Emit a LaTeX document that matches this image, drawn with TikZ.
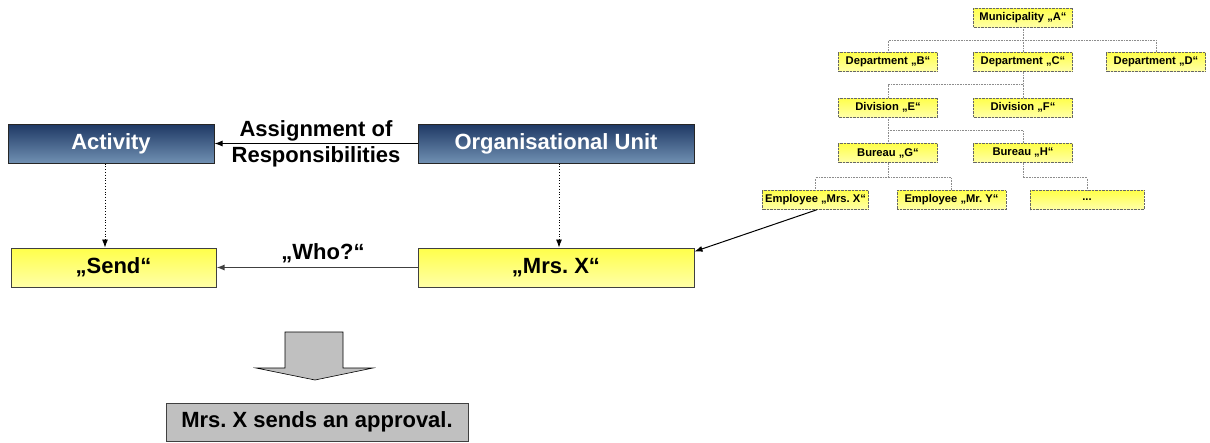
\documentclass[tikz,border=0pt]{standalone}
\usepackage{fontspec}
\setmainfont{Liberation Sans}
\usepackage{tikz}
\usetikzlibrary{arrows.meta, positioning}
\usepackage{xcolor}
\definecolor{blutop}{HTML}{1E3864}
\definecolor{blubot}{HTML}{7090B2}
\definecolor{yeltop}{HTML}{FFFF4A}
\definecolor{yelbot}{HTML}{FFFFA8}
\definecolor{boxgray}{HTML}{C0C0C0}
\newcommand{\lblfont}{\fontsize{22}{26}\selectfont\bfseries}
\newcommand{\orgfont}{\fontsize{11.2}{12}\selectfont\bfseries}
\frenchspacing

\begin{document}
\begin{tikzpicture}[x=1pt, y=-1pt, >={Latex[length=8pt,width=6pt]},
    unitbox/.style={draw=black!85, line width=1pt, top color=blutop, bottom color=blubot,
        text=white, font=\lblfont, minimum height=39, inner sep=0},
    yelbox/.style={draw=black!75, line width=1pt, top color=yeltop, bottom color=yelbot,
        font=\lblfont, minimum height=39, inner sep=0},
    orgbox/.style={draw=black!60, densely dotted, top color=yeltop, bottom color=yelbot,
        font=\orgfont, minimum height=19, minimum width=99, inner sep=0},
    orgline/.style={draw=black!45, densely dotted, line width=0.6pt}]
    \useasboundingbox (0,0) rectangle (1210,442);

    % Ebene der Begriffe
    \node[unitbox, minimum width=206] (act) at (111,143.5) {Activity};
    \node[unitbox, minimum width=276] (org) at (556,143.5) {Organisational Unit};
    \draw[->, line width=1pt] (org) -- (act)
        node[midway, align=center, font=\lblfont] {Assignment of\\Responsibilities};

    % Ebene der Instanzen
    \node[yelbox, minimum width=205] (send) at (113.5,267.5) {„Send“};
    \node[yelbox, minimum width=276] (mrsx) at (556,267.5) {„Mrs. X“};
    \draw[->, line width=1.2pt, black!75] (mrsx) -- (send)
        node[midway, above=1pt, xshift=6, font=\lblfont, text=black] {„Who?“};
    \draw[->, dotted, line width=0.8pt] ([xshift=-6]act.south) -- ([xshift=-8.5]send.north);
    \draw[->, dotted, line width=0.8pt] ([xshift=3]org.south) -- ([xshift=3]mrsx.north);

    % Organigramm
    \node[orgbox] (mun) at (1023,17.5) {Municipality „A“};
    \node[orgbox] (depB) at (888,62) {Department „B“};
    \node[orgbox] (depC) at (1023,62) {Department „C“};
    \node[orgbox] (depD) at (1156,62) {Department „D“};
    \node[orgbox] (divE) at (888,107.5) {Division „E“};
    \node[orgbox] (divF) at (1023,107.5) {Division „F“};
    \node[orgbox] (burG) at (888,153) {Bureau „G“};
    \node[orgbox] (burH) at (1023,153) {Bureau „H“};
    \node[orgbox, minimum width=106] (empX) at (815.5,200) {Employee „Mrs. X“};
    \node[orgbox, minimum width=109] (empY) at (951.5,200) {Employee „Mr. Y“};
    \node[orgbox, minimum width=114] (empZ) at (1087,200) {...};

    \draw[orgline] (mun.south) -- ++(0,13) coordinate (busA) -- (depC.north);
    \draw[orgline] (depB.north) |- (busA) -| (depD.north);
    \draw[orgline] (depC.south) -- ++(0,13) coordinate (busB) -- (divF.north);
    \draw[orgline] (divE.north) |- (busB);
    \draw[orgline] (divE.south) -- ++(0,13) coordinate (busC) -- (burG.north);
    \draw[orgline] (busC) -| (burH.north);
    \draw[orgline] (burG.south) -- ++(0,15) coordinate (busD);
    \draw[orgline] (empX.north) |- (busD) -| (empY.north);
    \draw[orgline] (burH.south) -- ++(0,15) -| (empZ.north);

    \draw[->, line width=1pt] ([xshift=1.5]empX.south) -- ([yshift=-4]mrsx.north east);

    % Ergebnis
    \draw[fill=boxgray, draw=black, line width=0.6pt]
        (285,332) -- (343,332) -- (343,368) -- (373,368) -- (315,380)
        -- (256,368) -- (285,368) -- cycle;
    \node[draw=black!75, line width=1pt, fill=boxgray, font=\lblfont,
        minimum width=302, minimum height=38, inner sep=0] (res) at (317,422)
        {Mrs. X sends an approval.};
\end{tikzpicture}
\end{document}
